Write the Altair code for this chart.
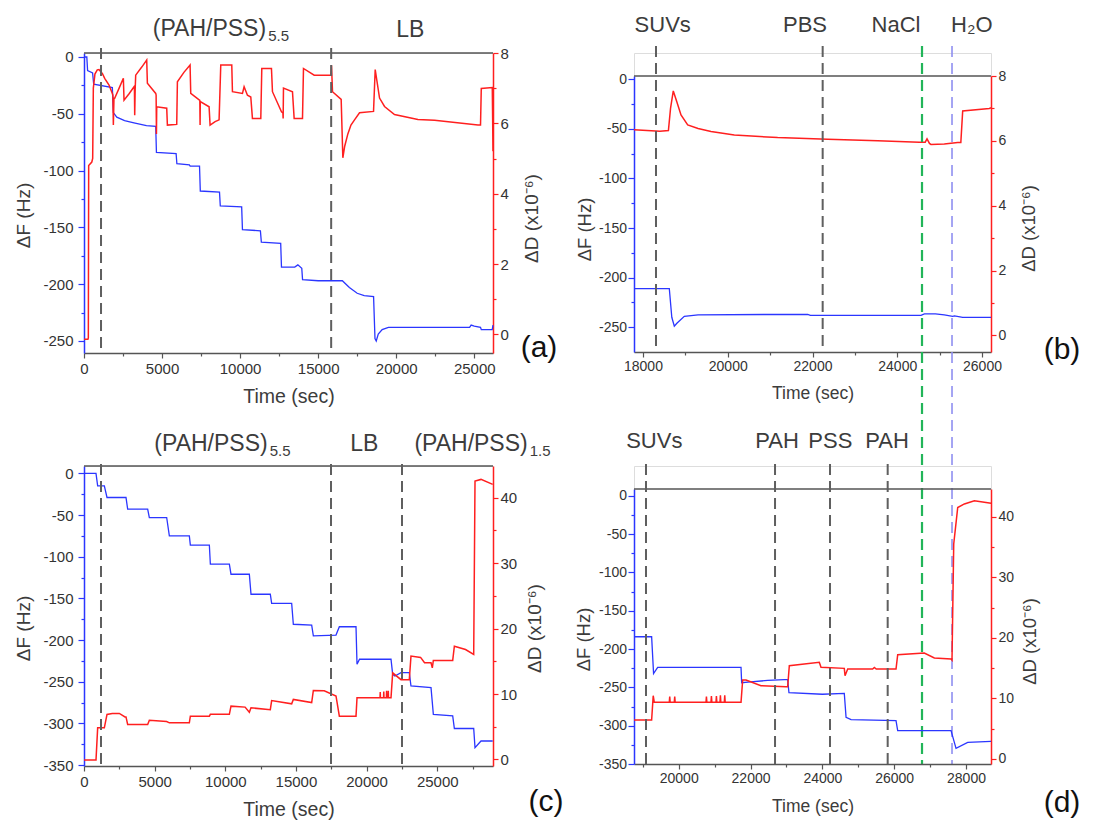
import altair as alt
import pandas as pd

FONT = "Liberation Sans"
BLUE = "#2b36ff"
RED = "#ff1f1f"
FRAME = "#555555"
GRAY = "#5f5f5f"
GREEN = "#22b559"
LBLUE = "#8f8ff0"
LABEL = "#3c3c3c"
TICKLAB = "#333333"

# ---------------- panel (a) data ----------------
a_dF = [(0, 0), (180, 0), (230, -12), (550, -14), (620, -24), (1816, -27), (1880, -49), (2100, -53),
        (2600, -56), (3200, -58), (4000, -60.5), (4594, -61), (4640, -84), (5900, -85), (5950, -94),
        (6750, -95), (6800, -96), (7400, -96), (7450, -118), (8680, -119), (8730, -131), (10100, -132),
        (10150, -152), (11300, -153), (11360, -163), (12600, -164), (12650, -185), (13500, -185),
        (13700, -183), (13950, -186), (14000, -196), (15000, -197), (16550, -197), (17000, -203),
        (17500, -208), (17950, -210), (18550, -211), (18640, -248), (18720, -250), (18850, -244),
        (19100, -240), (19500, -238), (22000, -238), (24700, -238), (24800, -236), (25000, -237),
        (25400, -238), (25450, -240), (26150, -240), (26200, -236)]
a_dD = [(0, -0.14), (250, -0.14), (278, -0.1), (300, 4.8), (500, 4.9), (556, 5.0), (598, 7.0), (700, 7.4),
        (850, 7.52), (962, 7.53), (1100, 7.45), (1175, 7.42), (1325, 7.28), (1603, 7.09), (1816, 6.85),
        (1850, 6.8), (1880, 5.95), (1920, 6.71), (1966, 6.71), (2250, 7.0), (2521, 7.28), (2564, 6.66),
        (2900, 6.85), (3205, 7.04), (3230, 7.0), (3248, 6.23), (3280, 7.0), (3312, 7.37), (3700, 7.6),
        (4017, 7.8), (4060, 7.14), (4594, 6.85), (4620, 6.8), (4640, 5.7), (4658, 6.47), (5299, 6.43),
        (5342, 5.95), (5940, 5.97), (5983, 7.18), (6400, 7.45), (6795, 7.66), (6838, 6.85), (7420, 6.65),
        (7436, 5.95), (7450, 6.62), (8013, 6.47), (8077, 5.95), (8400, 6.05), (8654, 6.1), (8761, 7.66),
        (9466, 7.66), (9509, 6.9), (10150, 6.85), (10256, 7.04), (10470, 6.8), (10684, 6.75),
        (10790, 6.14), (11325, 6.14), (11389, 7.56), (12008, 7.56), (12073, 6.9), (12650, 6.33),
        (12740, 6.3), (12757, 6.14), (12778, 7.0), (13355, 6.9), (13462, 6.14), (13996, 6.14),
        (14060, 7.56), (14745, 7.37), (15812, 7.37), (15855, 7.65), (15919, 6.9), (16474, 6.68),
        (16581, 5.02), (16700, 5.35), (16902, 5.7), (17100, 5.95), (17329, 6.1), (17650, 6.3),
        (18547, 6.34), (18654, 7.53), (18932, 6.72), (19252, 6.48), (19890, 6.25), (21389, 6.11),
        (22456, 6.09), (25235, 5.95), (25400, 5.95), (25449, 6.99), (26154, 7.02), (26200, 5.21)]
a_gray = [1090, 15833]

# ---------------- panel (b) data ----------------
b_dF = [(17788, -211), (18621, -211), (18680, -240), (18739, -249), (18800, -246), (18975, -239),
        (19300, -237.5), (21887, -237), (21950, -238), (24560, -238), (24640, -236.5), (24900, -236.5),
        (25110, -237.5), (25308, -239), (25350, -238.5), (25544, -240), (26212, -240)]
b_dD = [(17788, 6.34), (18400, 6.3), (18600, 6.32), (18650, 7.0), (18715, 7.54), (18800, 7.2),
        (18897, 6.8), (19055, 6.49), (19300, 6.38), (19605, 6.29), (20155, 6.18), (21178, 6.1),
        (22358, 6.05), (23538, 6.0), (24520, 5.96), (24660, 5.96), (24702, 6.06), (24760, 5.92),
        (24795, 5.89), (25110, 5.9), (25426, 5.95), (25500, 5.95), (25544, 6.92), (26172, 7.0),
        (26212, 7.02)]
b_gray = [18307, 22240]
b_green = 24584
b_blue = 25292

# ---------------- panel (c) data ----------------
c_dF = [(0, 0), (849, 0), (967, -15), (1439, -15), (1628, -29), (2972, -29), (3090, -43), (4506, -43),
        (4624, -53), (5851, -53), (6040, -75), (7455, -75), (7526, -86), (8871, -86), (8942, -109),
        (10287, -109), (10403, -121), (11701, -121), (11819, -145), (13185, -145), (13280, -156),
        (14697, -156), (14815, -181), (16113, -182), (16231, -195), (17834, -194), (18071, -184),
        (19250, -184), (19321, -229), (19500, -223), (21727, -223), (21845, -241), (22000, -243),
        (22435, -239), (23022, -239), (23140, -255), (24558, -257), (24723, -289), (26093, -291),
        (26211, -306), (27579, -306), (27672, -329), (28096, -321), (28924, -321)]
c_dD = [(0, -0.1), (849, -0.1), (967, 4.83), (1439, 4.83), (1628, 6.88), (2000, 7.03), (2500, 7.03),
        (2900, 6.5), (2972, 6.5), (3090, 5.35), (4506, 5.35), (4624, 6.0), (5851, 5.8), (6040, 5.6),
        (7455, 5.6), (7526, 6.62), (8871, 6.62), (8942, 6.9), (10287, 6.9), (10403, 8.15), (11400, 8.0),
        (11701, 7.2), (11819, 7.89), (13185, 7.6), (13280, 9.0), (14697, 8.5), (14815, 9.17),
        (16113, 8.7), (16231, 10.55), (17000, 10.5), (17834, 9.7), (18071, 6.62), (19250, 6.62),
        (19321, 9.42), (20950, 9.42), (20965, 10.3), (20980, 9.42), (21200, 9.42), (21215, 10.4),
        (21230, 9.42), (21400, 9.42), (21415, 10.5), (21430, 9.42), (21520, 9.42), (21535, 10.5),
        (21550, 9.42), (21727, 9.42), (21845, 13.24), (22435, 12.2), (23022, 12.2), (23140, 15.8),
        (23820, 15.6), (24100, 14.77), (24558, 14.77), (24650, 14.0), (24723, 15.14), (26093, 15.14),
        (26211, 17.3), (27000, 16.8), (27579, 16.05), (27672, 42.55), (28096, 42.8), (28924, 42.05)]
c_gray = [1203, 17481, 22505]

# ---------------- panel (d) data ----------------
d_dF = [(18755, -184), (19246, -184), (19300, -232), (19414, -224), (21735, -224), (21753, -244),
        (22000, -243), (22477, -241), (22941, -240), (23034, -240), (23070, -257), (24000, -259),
        (24611, -258), (24660, -289), (24800, -292), (26051, -293.5), (26098, -306.5), (27583, -306.5),
        (27722, -329.6), (28047, -321.7), (28697, -320.4)]
d_dD = [(18755, 6.44), (19246, 6.44), (19290, 10.45), (19320, 9.35), (19738, 9.35), (19750, 10.3),
        (19762, 9.35), (19877, 9.35), (19889, 10.3), (19901, 9.35), (20760, 9.35), (20772, 10.3),
        (20784, 9.35), (20899, 9.35), (20911, 10.4), (20923, 9.35), (21038, 9.35), (21050, 10.4),
        (21062, 9.35), (21149, 9.35), (21161, 10.5), (21173, 9.35), (21270, 9.35), (21282, 10.5),
        (21294, 9.35), (21735, 9.35), (21781, 13.04), (21874, 13.04), (22291, 12.1), (22987, 11.93),
        (23034, 11.93), (23080, 15.4), (23915, 15.95), (23962, 15.13), (24611, 14.96), (24631, 13.75),
        (24706, 14.85), (25400, 14.85), (25448, 15.1), (25500, 14.85), (26051, 14.85), (26098, 17.22),
        (26839, 17.5), (27118, 16.67), (27583, 16.5), (27610, 16.3), (27658, 35.5), (27769, 41.5),
        (27955, 42.1), (28233, 42.64), (28697, 42.2)]
d_gray = [19089, 22682, 24213, 25819]

# tick values
a_xt = [0, 2500, 5000, 7500, 10000, 12500, 15000, 17500, 20000, 22500, 25000]
c_xt = [0, 2500, 5000, 7500, 10000, 12500, 15000, 17500, 20000, 22500, 25000, 27500]
b_xt = [18000, 19000, 20000, 21000, 22000, 23000, 24000, 25000, 26000]
d_xt = [19000, 20000, 21000, 22000, 23000, 24000, 25000, 26000, 27000, 28000]
ab_ft = [-250, -225, -200, -175, -150, -125, -100, -75, -50, -25, 0]
cd_ft = [-350, -325, -300, -275, -250, -225, -200, -175, -150, -125, -100, -75, -50, -25, 0]
ab_dt = [0, 1, 2, 3, 4, 5, 6, 7, 8]
cd_dt = [0, 5, 10, 15, 20, 25, 30, 35, 40]


def cond_size(step, major, minor):
    return {"condition": {"test": f"datum.value % {step} !== 0", "value": minor}, "value": major}


def lab_expr(step):
    return f"datum.value % {step} === 0 ? toString(datum.value) : ''"


def panel(W, H, T, xdom, fdom, ddom, xt, xstep, ft, fstep, dt, dstep, dF, dD,
          gray_t, gray_y, colored, labels, letter, letter_xy, fs_tick, fs_xtitle, fs_ytitle,
          lpad, xpad, xtitle_y, lt_xy, rt_xy):
    x_axis = alt.Axis(values=xt, labelExpr=lab_expr(xstep), tickSize=cond_size(xstep, 5, 3),
                      title="Time (sec)", titleY=xtitle_y, titleBaseline="top",
                      titleFontSize=fs_xtitle, titleFontWeight="normal", titleColor=LABEL, titleFont=FONT,
                      labelFont=FONT, labelFontSize=fs_tick, labelColor=TICKLAB, labelPadding=xpad,
                      labelFlush=False, domainColor=FRAME, domainWidth=1.5, tickColor=FRAME, tickWidth=1.2,
                      grid=False)
    X = alt.X("t:Q", scale=alt.Scale(domain=xdom, nice=False, zero=False), axis=x_axis)
    l_axis = alt.Axis(orient="left", values=ft, labelExpr=lab_expr(fstep), tickSize=cond_size(fstep, 6, 3),
                      title="ΔF (Hz)", titleX=lt_xy[0], titleY=lt_xy[1], titleAngle=270,
                      titleBaseline="bottom", titleAlign="center",
                      titleFontSize=fs_ytitle, titleFontWeight="normal", titleColor=LABEL, titleFont=FONT,
                      labelFont=FONT, labelFontSize=fs_tick, labelColor=TICKLAB, labelPadding=lpad,
                      domainColor=BLUE, domainWidth=1.5, tickColor=BLUE, tickWidth=1.2, grid=False)
    r_axis = alt.Axis(orient="right", values=dt, labelExpr=lab_expr(dstep), tickSize=cond_size(dstep, 5, 3),
                      title="ΔD (x10⁻⁶)", titleX=rt_xy[0], titleY=rt_xy[1], titleAngle=270,
                      titleBaseline="bottom", titleAlign="center",
                      titleFontSize=fs_ytitle, titleFontWeight="normal", titleColor=LABEL, titleFont=FONT,
                      labelFont=FONT, labelFontSize=fs_tick, labelColor=TICKLAB, labelPadding=2,
                      domainColor=RED, domainWidth=1.5, tickColor=RED, tickWidth=1.2, grid=False)

    dfb = pd.DataFrame(dF, columns=["t", "F"])
    dfb["i"] = range(len(dfb))
    dfr = pd.DataFrame(dD, columns=["t", "D"])
    dfr["i"] = range(len(dfr))

    frame = alt.Chart(pd.DataFrame({"v": [0]})).mark_rule(color=FRAME, strokeWidth=1.5).encode(
        x=alt.value(0), x2=alt.value(W), y=alt.value(T))
    blue = alt.Chart(dfb).mark_line(color=BLUE, strokeWidth=1.3).encode(
        x=X, y=alt.Y("F:Q", scale=alt.Scale(domain=fdom, range=[H, T], nice=False, zero=False), axis=l_axis),
        order="i:Q")
    red = alt.Chart(dfr).mark_line(color=RED, strokeWidth=1.5).encode(
        x=X, y=alt.Y("D:Q", scale=alt.Scale(domain=ddom, range=[H, T], nice=False, zero=False), axis=r_axis),
        order="i:Q")
    layers = [frame, blue, red]
    layers.append(alt.Chart(pd.DataFrame({"t": gray_t})).mark_rule(
        color=GRAY, strokeWidth=2, strokeDash=[11, 6]).encode(
        x=X, y=alt.value(gray_y[0]), y2=alt.value(gray_y[1])))
    for (tv, col, wdt, y0, y1) in colored:
        layers.append(alt.Chart(pd.DataFrame({"t": [tv]})).mark_rule(
            color=col, strokeWidth=wdt, strokeDash=[11, 6]).encode(
            x=X, y=alt.value(y0), y2=alt.value(y1)))
    for (tv, txt, align, dx, yv, fs) in labels:
        layers.append(alt.Chart(pd.DataFrame({"t": [tv], "s": [txt]})).mark_text(
            font=FONT, fontSize=fs, color=LABEL, align=align, baseline="alphabetic", dx=dx).encode(
            x=X, y=alt.value(yv), text="s:N"))
    layers.append(alt.Chart(pd.DataFrame({"s": [letter]})).mark_text(
        font=FONT, fontSize=30, color="#111111", align="center", baseline="middle").encode(
        x=alt.value(letter_xy[0]), y=alt.value(letter_xy[1]), text="s:N"))
    return alt.layer(*layers).resolve_scale(y="independent").properties(width=W, height=H)


pa = panel(409, 300, 0, [0, 26200], [-260.6, 3.5], [-0.53, 8.0], a_xt, 5000, ab_ft, 50, ab_dt, 2,
           a_dF, a_dD, a_gray, [-5, 296], [],
           [(11667, "(PAH/PSS)", "right", 0, -17, 23), (11667, "5.5", "left", 2, -12, 15),
            (20897, "LB", "center", 0, -16, 23)],
           "(a)", (455, 295), 15, 19.5, 19, 5, 3, 34, (-51, 162), (48, 165))

pb = panel(357, 299, 23, [17788, 26212], [-275, 3.3], [-0.51, 8.0], b_xt, 2000, ab_ft, 50, ab_dt, 2,
           b_dF, b_dD, b_gray, [-7, 296],
           [(b_green, GREEN, 2.2, -7, 711), (b_blue, LBLUE, 1.6, -7, 711)],
           [(18465, "SUVs", "center", 0, -21, 22), (21823, "PBS", "center", 0, -21, 22),
            (23970, "NaCl", "center", 0, -21, 22), (25758, "H₂O", "center", 0, -21, 22)],
           "(b)", (428, 297), 14, 17.5, 18.5, 1.5, 2, 32, (-40, 176), (47, 175))

pc = panel(409, 300, 0, [0, 28945], [-351, 8.8], [-1.0, 44.85], c_xt, 5000, cd_ft, 50, cd_dt, 10,
           c_dF, c_dD, c_gray, [-2, 300], [],
           [(13000, "(PAH/PSS)", "right", 0, -15, 23), (13000, "5.5", "left", 2, -10, 15),
            (19840, "LB", "center", 0, -15, 23), (31402, "(PAH/PSS)", "right", 0, -15, 23),
            (31402, "1.5", "left", 2, -10, 15)],
           "(c)", (462, 336), 15, 19.5, 19, 5, 3, 34, (-51, 162), (51, 162))

pd_ = panel(357, 298, 23, [18755, 28696], [-350, 8.7], [-0.83, 44.57], d_xt, 2000, cd_ft, 50, cd_dt, 10,
            d_dF, d_dD, d_gray, [-2, 298], [],
            [(19321, "SUVs", "center", 0, -18, 22), (22737, "PAH", "center", 0, -18, 22),
             (24222, "PSS", "center", 0, -18, 22), (25800, "PAH", "center", 0, -18, 22)],
            "(d)", (428, 337), 14, 17.5, 18.5, 1.5, 2, 33, (-41, 173), (48, 175))

chart = alt.concat(pa, pb, pc, pd_, columns=2, spacing={"row": 113, "column": 141}, bounds="flush").properties(
    padding={"left": 13, "top": 13, "right": 5, "bottom": 5}
).configure_view(stroke="transparent").configure(font=FONT)

chart.save("out.html", embed_options={"renderer": "svg", "actions": False})
